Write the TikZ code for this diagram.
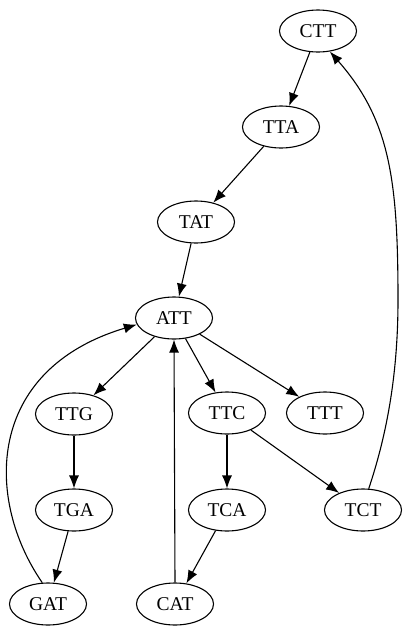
\documentclass[tikz,border=0pt]{standalone}
\usepackage{fontspec}
\setmainfont{Liberation Serif}
\usetikzlibrary{arrows.meta,shapes.geometric}
\begin{document}
\begin{tikzpicture}[x=1pt,y=-1pt,
  nd/.style={draw,ellipse,line width=1.1pt,minimum width=77pt,minimum height=42pt,inner sep=0pt,font=\fontsize{19.5}{21}\selectfont},
  ar/.style={-{Latex[length=13pt,width=10pt]},line width=1.1pt}]
\useasboundingbox (0,0) rectangle (407,635);
\node[nd] (CTT) at (318,31) {CTT};
\node[nd] (TTA) at (281,127) {TTA};
\node[nd] (TAT) at (196,222) {TAT};
\node[nd] (ATT) at (174,318) {ATT};
\node[nd] (TTG) at (74,414) {TTG};
\node[nd] (TTC) at (227,413) {TTC};
\node[nd] (TTT) at (325,413) {TTT};
\node[nd] (TGA) at (74,510) {TGA};
\node[nd] (TCA) at (227,510) {TCA};
\node[nd] (TCT) at (363,510) {TCT};
\node[nd] (GAT) at (48,604) {GAT};
\node[nd] (CAT) at (175,604) {CAT};
\draw[ar] (CTT) -- (TTA);
\draw[ar] (TTA) -- (TAT);
\draw[ar] (TAT) -- (ATT);
\draw[ar] (ATT) -- (TTG);
\draw[ar] (ATT) -- (TTC);
\draw[ar] (ATT) -- (TTT);
\draw[ar] (TTG) -- (TGA);
\draw[ar] (TGA) -- (GAT);
\draw[ar] (TTC) -- (TCA);
\draw[ar] (TTC) -- (TCT);
\draw[ar] (TCA) -- (CAT);
\draw[ar] (CAT.north) -- (ATT.south);
\draw[ar] (GAT.105) .. controls (-15,500) and (-15,370) .. (ATT.190);
\draw[ar] (TCT.75) .. controls (385,440) and (398,380) .. (398,300)
  .. controls (398,180) and (390,120) .. (CTT.300);
\end{tikzpicture}
\end{document}
